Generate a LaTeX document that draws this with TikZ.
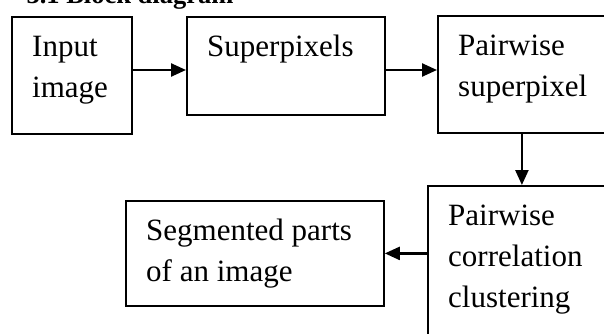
\documentclass[tikz,border=0pt]{standalone}
\usepackage{fontspec}
\setmainfont{Liberation Serif}
\usetikzlibrary{positioning,arrows.meta}
\def\bw{1.8pt}
\tikzstyle{block}=[draw,rectangle,line width=\bw,inner sep=0pt,anchor=north west]
\tikzstyle{blocktext}=[anchor=north west,align=left,inner xsep=20pt,inner ysep=11pt,
    font=\fontsize{31}{41}\selectfont]
\newcommand{\newBlock}[5]{\node[block,minimum width=#4,minimum height=#5,
    label={[blocktext]north west:{\strut #3}}](#1) at #2 {};}
\newcommand{\newArrow}[2]{\draw[->] #1 -- #2;}

\begin{document}
\begin{tikzpicture}[x=1pt,y=-1pt,
    >={Triangle[length=15pt,width=13pt]},line width=2.4pt]
    \useasboundingbox (0,0) rectangle (604,334);
    \node[anchor=base west,font=\fontsize{26.5}{32}\selectfont\bfseries] (title) at (22,4) {3.1 Block diagram};
    \newBlock{in}{(11,16)}{Input\\image}{120pt}{117pt}
    \newBlock{sp}{(186,16)}{Superpixels}{198pt}{98pt}
    \newBlock{pw}{(437,15)}{Pairwise\\superpixel}{168pt}{117pt}
    \newBlock{pc}{(427,185)}{Pairwise\\correlation\\clustering}{200pt}{170pt}
    \newBlock{seg}{(125,200)}{Segmented parts\\of an image}{258pt}{105pt}
    \coordinate (lvl) at (0,70);
    \newArrow{(in.east |- lvl)}{(sp.west |- lvl)}
    \newArrow{(sp.east |- lvl)}{(pw.west |- lvl)}
    \newArrow{(pw.south)}{(pw.south |- pc.north)}
    \newArrow{(pc.west |- seg.east)}{(seg.east)}
  \end{tikzpicture}
\end{document}
